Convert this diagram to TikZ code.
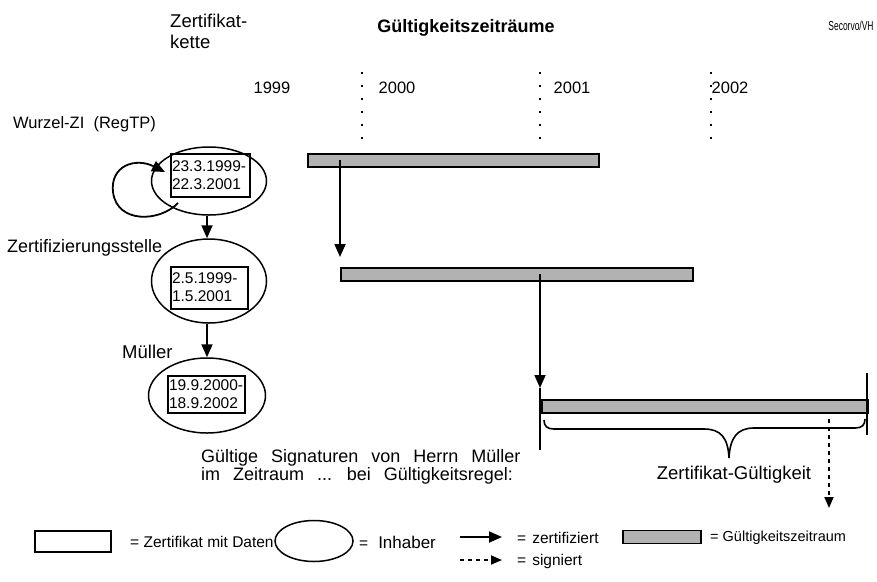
\documentclass[tikz,border=0pt]{standalone}
\usepackage{fontspec}
\setmainfont{Liberation Sans}
\usepackage{graphicx}
\usetikzlibrary{arrows.meta,shapes.geometric,calc}
\newcommand{\wsp}[1]{\spaceskip=#1 plus 1pt\relax}
\begin{document}
\begin{tikzpicture}[x=1pt,y=-1pt,
  holder/.style={draw, ellipse, line width=1.5pt, inner sep=0pt},
  cert/.style={draw, line width=2pt, inner xsep=1pt, inner ysep=0pt, align=left, font=\fontsize{15.5}{18}\selectfont},
  bar/.style={draw, line width=1.5pt, fill=black!30, inner sep=0pt, minimum height=13pt},
  zarrow/.style={line width=1.8pt, -{Triangle[length=13pt,width=11pt]}},
  sarrow/.style={line width=1.8pt, dash pattern=on 4pt off 4pt, -{Triangle[length=11pt,width=9pt]}},
  dotline/.style={line width=2pt, dash pattern=on 2pt off 11pt},
  markline/.style={line width=1.8pt},
  lbl/.style={inner sep=0pt, anchor=west},
  yearlbl/.style={inner sep=0pt, font=\fontsize{16.5}{19}\selectfont},
  legtxt/.style={lbl, font=\fontsize{15.5}{18}\selectfont}
]
\useasboundingbox (0,0) rectangle (877,581);

% headings
\node[lbl, align=left, font=\fontsize{18.5}{21}\selectfont] (zk) at (170,31) {Zertifikat-\\kette};
\node[inner sep=0pt, font=\bfseries\fontsize{18}{21}\selectfont] (title) at (466,28) {Gültigkeitszeiträume};
\node[inner sep=0pt, font=\fontsize{13}{15}\selectfont] (sec) at (851,26) {\scalebox{0.65}[1]{Secorvo/VH}};

% years
\node[yearlbl] (y1999) at (272,88) {1999};
\node[yearlbl] (y2000) at (397,88) {2000};
\node[yearlbl] (y2001) at (572,88) {2001};
\node[yearlbl] (y2002) at (730,88) {2002};
\coordinate (d1a) at (362,72); \coordinate (d1b) at (362,147);
\coordinate (d2a) at (540,72); \coordinate (d2b) at (540,147);
\coordinate (d3a) at (711,72); \coordinate (d3b) at (711,147);
\draw[dotline] (d1a) -- (d1b);
\draw[dotline] (d2a) -- (d2b);
\draw[dotline] (d3a) -- (d3b);

% certificate chain
\coordinate (ax) at (207,0);
\node[lbl, font=\fontsize{16.5}{19}\selectfont] (wz) at (13,124) {Wurzel-ZI\ \ (RegTP)};
\node[holder, minimum width=115pt, minimum height=68pt] (e1) at (209,181) {};
\node[cert, text width=77pt, minimum height=43pt] (c1) at (210.5,175.5) {23.3.1999-\\22.3.2001};

\node[lbl, font=\fontsize{18}{21}\selectfont] (zs) at (7,248) {Zertifizierungsstelle};
\node[holder, minimum width=115pt, minimum height=84pt] (e2) at (209,281) {};
\node[cert, text width=75pt, minimum height=42pt] (c2) at (209.5,287.5) {2.5.1999-\\1.5.2001};

\node[lbl, font=\fontsize{18.5}{21}\selectfont] (mu) at (122,352) {Müller};
\node[holder, minimum width=117pt, minimum height=75pt] (e3) at (207,395.5) {};
\node[cert, text width=75pt, minimum height=37pt] (c3) at (206.5,394.5) {19.9.2000-\\18.9.2002};

\coordinate (lpA) at ([shift={(-31,22)}]e1.center);
\coordinate (lpB) at ([shift={(-44,-9)}]e1.center);
\draw[zarrow] (lpA) .. controls (160,222) and (117,224) .. (113,192)
              .. controls (110,166) and (135,157) .. (lpB);
\draw[zarrow] (e1.south -| ax) -- (e2.north -| ax);
\draw[zarrow] (e2.south -| ax) -- (e3.north -| ax);

% validity bars
\node[bar, minimum width=291pt, anchor=north west] (g1) at (307,153) {};
\node[bar, minimum width=352pt, anchor=north west] (g2) at (340,267) {};
\node[bar, minimum width=326pt, anchor=north west] (g3) at (541,399) {};

\coordinate (t1) at (340,257);
\draw[zarrow] (g1.center -| t1) -- (t1);
\coordinate (t2) at (540,388);
\draw[zarrow] (g2.center -| t2) -- (t2);
\coordinate (m1) at (540,450);
\draw[markline] (t2) -- (m1);
\coordinate (m2a) at (867,373); \coordinate (m2b) at (867,435);
\draw[markline] (m2a) -- (m2b);

% brace
\coordinate (br1) at (544,420);
\coordinate (brt) at (729,458);
\coordinate (br2) at (865,419);
\draw[line width=1.6pt] (br1) .. controls (544,426) and (547,429) .. (554,429) -- (704,429)
   .. controls (721,429) and (728,438) .. (brt)
   .. controls (730,438) and (737,428) .. (754,428) -- (855,428)
   .. controls (862,428) and (865,425) .. (br2);

\coordinate (s1) at (829,419); \coordinate (s2) at (829,508);
\draw[sarrow] (s1) -- (s2);

\node[inner sep=0pt, font=\fontsize{18.5}{21}\selectfont] (zg) at (734,475) {Zertifikat-Gültigkeit};
\node[lbl, align=left, font=\fontsize{18}{14.5}\selectfont] (gs) at (201,467)
  {\wsp{13pt}Gültige Signaturen von Herrn Müller\\\wsp{13pt}im Zeitraum ... bei Gültigkeitsregel:};

% legend
\node[draw, line width=2pt, minimum width=76pt, minimum height=21pt, inner sep=0pt] (lc) at (73,541.5) {};
\node[legtxt] (lct) at (130,542) {= Zertifikat mit Daten};
\node[holder, minimum width=78pt, minimum height=41pt] (le) at (314,541) {};
\node[legtxt] (let) at (359,542) {\wsp{5pt}=\ \ \fontsize{17}{19}\selectfont Inhaber};
\coordinate (la1) at (460,537); \coordinate (la2) at (502,537);
\draw[zarrow] (la1) -- (la2);
\node[legtxt] (lat) at (517,538) {\wsp{6pt}= zertifiziert};
\node[bar, minimum width=78pt, anchor=west] (lg) at (622,537) {};
\node[legtxt, font=\fontsize{14.5}{17}\selectfont] (lgt) at (710,538) {= Gültigkeitszeitraum};
\coordinate (ls1) at (460,560); \coordinate (ls2) at (502,560);
\draw[sarrow] (ls1) -- (ls2);
\node[legtxt] (lst) at (517,561) {\wsp{6pt}= signiert};
\end{tikzpicture}
\end{document}
